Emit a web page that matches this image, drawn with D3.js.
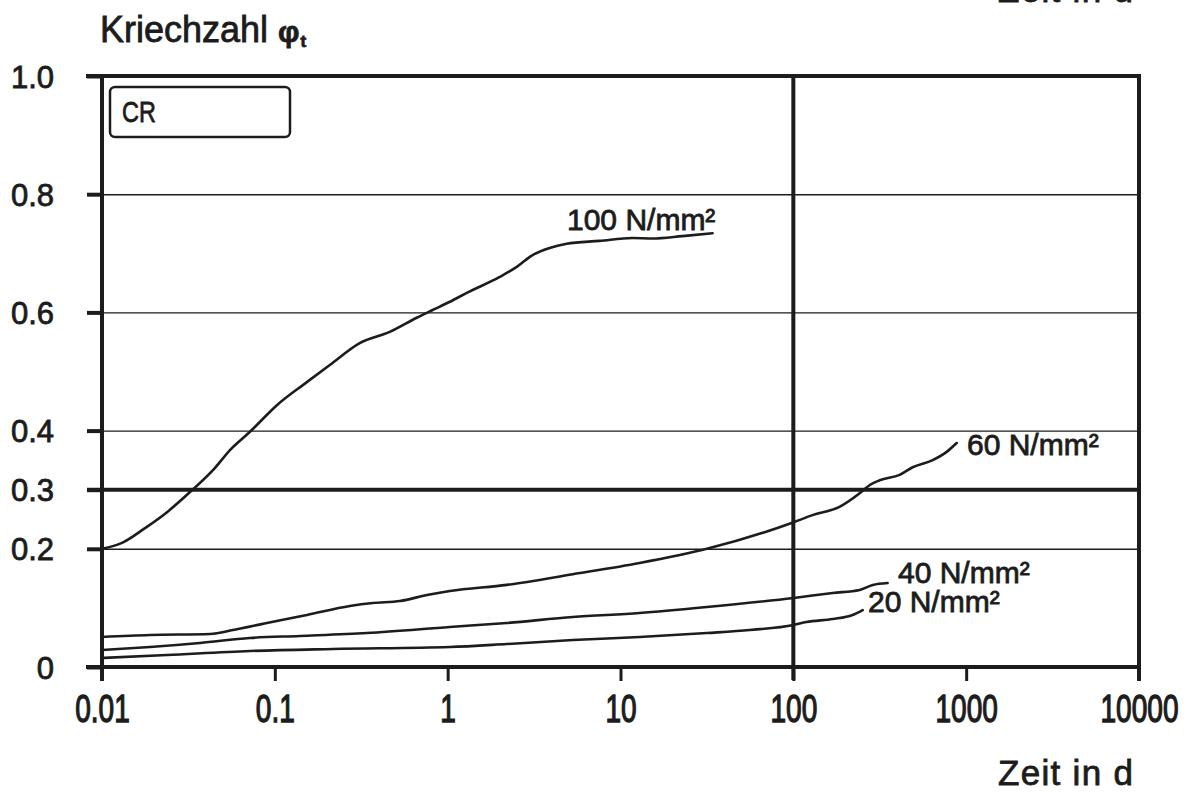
<!DOCTYPE html>
<html>
<head>
<meta charset="utf-8">
<script src="https://cdn.jsdelivr.net/npm/d3@7"></script>
<style>
  html, body { margin: 0; padding: 0; background: #fff; }
  svg { display: block; }
</style>
</head>
<body>
<svg id="chart" width="1197" height="792"></svg>
<script>
// ---- data (t in days, creep coefficient phi) ----
const xTickValues = [0.01, 0.1, 1, 10, 100, 1000, 10000];
const xTickLabels = ["0.01", "0.1", "1", "10", "100", "1000", "10000"];
const yTickValues = [0, 0.2, 0.3, 0.4, 0.6, 0.8, 1.0];
const yTickLabels = ["0", "0.2", "0.3", "0.4", "0.6", "0.8", "1.0"];
const yGridValues = [0.2, 0.4, 0.6, 0.8];
const yRefLine = 0.3;
const xRefLine = 100;
const seriesNames = ["100 N/mm²", "60 N/mm²", "40 N/mm²", "20 N/mm²"];

const s100 = [[0.01,0.200],[0.01306,0.210],[0.01774,0.235],[0.02378,0.262],[0.0323,0.296],[0.0451,0.337],
  [0.0550,0.367],[0.0718,0.398],[0.1028,0.443],[0.1532,0.482],[0.208,0.511],[0.310,0.548],[0.462,0.567],
  [0.662,0.591],[0.819,0.604],[1.03,0.618],[1.29,0.633],[2.0,0.660],[2.51,0.677],[3.10,0.697],[3.89,0.709],
  [4.88,0.716],[7.57,0.721],[11.7,0.726],[15.3,0.725],[22.8,0.729],[34.1,0.734]];
const s60 = [[0.01,0.0508],[0.01897,0.0541],[0.0422,0.0558],[0.0573,0.0626],[0.0900,0.0745],[0.1534,0.0880],
  [0.2717,0.1032],[0.369,0.1083],[0.530,0.1117],[0.759,0.1218],[1.03,0.1286],[2.20,0.139],[5.30,0.157],
  [12.9,0.176],[31.6,0.200],[100.5,0.245],[129,0.257],[185,0.271],[242,0.294],[277,0.308],[316,0.316],
  [412,0.325],[490,0.338],[640,0.350],[771,0.364],[881,0.379]];
const s40 = [[0.01,0.0288],[0.01897,0.0338],[0.0369,0.0406],[0.0718,0.0491],[0.1397,0.0525],[0.341,0.0575],
  [1.03,0.0677],[2.20,0.0745],[5.30,0.0846],[12.9,0.0914],[31.6,0.1015],[100.5,0.1168],[169,0.1252],
  [242,0.1303],[288,0.1387],[351,0.1421]];
const s20 = [[0.01,0.0152],[0.0238,0.0203],[0.0718,0.0271],[0.217,0.0305],[1.03,0.0338],[2.20,0.0389],
  [5.30,0.0457],[12.9,0.0508],[31.6,0.0575],[56.0,0.0626],[100.5,0.0711],[119,0.0761],[169,0.0812],
  [220,0.0880],[252,0.0964]];
const seriesData = [s100, s60, s40, s20];

(function () {
// ---- layout ----
const svg = d3.select("#chart");
const mL = 102, mR = 1139, mT = 76, mB = 667;
const x = d3.scaleLog().domain([0.01, 10000]).range([mL, mR]);
const y = d3.scaleLinear().domain([0, 1]).range([mB, mT]);
const ink = "#1c1c1c";
const fontReg = "'Liberation Sans', Arial, sans-serif";

function heavy(sel, w) {
  sel.attr("stroke", ink).attr("stroke-width", w).attr("paint-order", "stroke");
}

// gridlines (thin)
const grid = svg.append("g").attr("transform", `translate(${mL},0)`)
  .call(d3.axisLeft(y).tickValues(yGridValues).tickSize(-(mR - mL)).tickFormat(""));
grid.select(".domain").remove();
grid.selectAll("line").attr("stroke", ink).attr("stroke-width", 1.4);

// thick reference line 0.3
svg.append("line").attr("x1", mL - 15).attr("x2", mR)
  .attr("y1", y(yRefLine)).attr("y2", y(yRefLine))
  .attr("stroke", ink).attr("stroke-width", 4);

// vertical thick line at 100
svg.append("line").attr("x1", x(xRefLine)).attr("x2", x(xRefLine))
  .attr("y1", mT).attr("y2", mB + 13)
  .attr("stroke", ink).attr("stroke-width", 4);

// frame
svg.append("line").attr("x1", mL - 16).attr("x2", mR + 2).attr("y1", mT).attr("y2", mT)
  .attr("stroke", ink).attr("stroke-width", 4);
svg.append("line").attr("x1", mR).attr("x2", mR).attr("y1", mT - 2).attr("y2", mB + 14)
  .attr("stroke", ink).attr("stroke-width", 4);
svg.append("line").attr("x1", mL).attr("x2", mL).attr("y1", mT - 2).attr("y2", mB + 14)
  .attr("stroke", ink).attr("stroke-width", 4);
svg.append("line").attr("x1", mL - 16).attr("x2", mR + 2).attr("y1", mB).attr("y2", mB)
  .attr("stroke", ink).attr("stroke-width", 4);

// x axis
const xAxis = svg.append("g").attr("transform", `translate(0,${mB})`)
  .call(d3.axisBottom(x).tickValues(xTickValues).tickSize(14).tickPadding(13)
    .tickFormat((d, i) => xTickLabels[i]));
xAxis.select(".domain").remove();
xAxis.selectAll("line").attr("stroke", ink).attr("stroke-width", 3);
const xt = xAxis.selectAll("text").attr("fill", ink).attr("font-family", fontReg)
  .attr("font-size", 39).attr("font-weight", "normal").attr("dy", "0.72em")
  .attr("transform", "scale(0.72,1)");
heavy(xt, 1.3);

// y axis
const yAxis = svg.append("g").attr("transform", `translate(${mL},0)`)
  .call(d3.axisLeft(y).tickValues(yTickValues).tickSize(15).tickPadding(33)
    .tickFormat((d, i) => yTickLabels[i]));
yAxis.select(".domain").remove();
yAxis.selectAll("line").attr("stroke", ink).attr("stroke-width", 4);
const ytx = yAxis.selectAll("text").attr("fill", ink).attr("font-family", fontReg)
  .attr("font-size", 31).attr("dy", "0.36em");
heavy(ytx, 0.8);

// curves
const line = d3.line().x(d => x(d[0])).y(d => y(d[1])).curve(d3.curveMonotoneX);
svg.append("g").selectAll("path").data(seriesData).join("path")
  .attr("d", line).attr("fill", "none").attr("stroke", ink)
  .attr("stroke-width", 2.6).attr("stroke-linejoin", "round").attr("stroke-linecap", "round");

// curve labels
const labelPos = [[567, 230], [967, 455], [898, 583], [868, 612]];
const cl = svg.append("g").selectAll("text").data(seriesNames).join("text")
  .attr("x", (d, i) => labelPos[i][0]).attr("y", (d, i) => labelPos[i][1])
  .attr("font-family", fontReg).attr("font-size", 30).attr("fill", ink)
  .text(d => d);
heavy(cl, 0.8);

// CR box
svg.append("rect").attr("x", 110).attr("y", 87).attr("width", 180).attr("height", 50)
  .attr("rx", 5).attr("fill", "none").attr("stroke", ink).attr("stroke-width", 2.5);
const cr = svg.append("text").attr("transform", "translate(122,122) scale(0.78,1)")
  .attr("font-family", fontReg).attr("font-size", 30).attr("fill", ink).text("CR");
heavy(cr, 0.8);

// axis titles
const yt = svg.append("text").attr("x", 100).attr("y", 42).attr("font-family", fontReg)
  .attr("font-size", 36).attr("fill", ink);
heavy(yt, 0.8);
yt.append("tspan").text("Kriechzahl");
yt.append("tspan").attr("dx", 10).attr("font-size", 30).attr("font-weight", "bold").text("φ");
yt.append("tspan").attr("dx", 1).attr("dy", 5).attr("font-size", 17).attr("font-weight", "bold").text("t");

const zt = svg.append("text").attr("x", 998).attr("y", 785).attr("font-family", fontReg)
  .attr("font-size", 35).attr("letter-spacing", 1.3).attr("fill", ink).text("Zeit in d");
heavy(zt, 0.8);
// cut-off duplicate title at the top edge (as in the scanned original)
const zt2 = svg.append("text").attr("x", 998).attr("y", 2).attr("font-family", fontReg)
  .attr("font-size", 35).attr("letter-spacing", 1.3).attr("fill", ink).text("Zeit in d");
heavy(zt2, 0.8);
})();
</script>
</body>
</html>
